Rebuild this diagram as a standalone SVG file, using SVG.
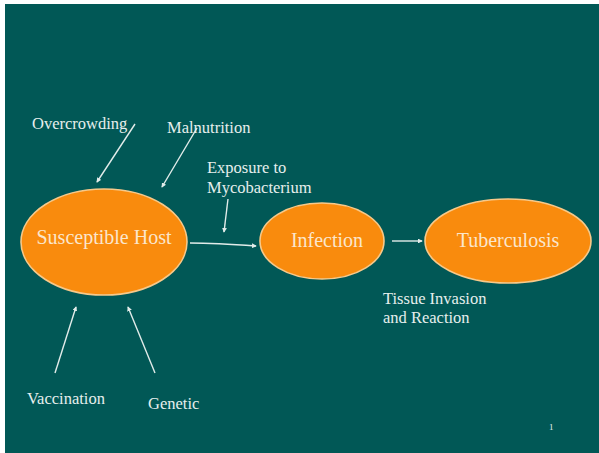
<svg xmlns="http://www.w3.org/2000/svg" width="599" height="453" viewBox="0 0 599 453">
<defs>
<style>
.node ellipse{fill:#F98B0D;stroke:#F7C98A;stroke-width:1.6}
.node text{font-family:"Liberation Serif","Times New Roman",serif;font-size:20px;fill:#FBE6CC;text-anchor:middle}
.lbl{font-family:"Liberation Serif","Times New Roman",serif;font-size:16.5px;fill:#E6EFED}
.conn line,.conn path{stroke:#E2ECEA;stroke-width:1.4;fill:none;marker-end:url(#ah)}
</style>
<marker id="ah" viewBox="0 0 6 6" refX="5" refY="3" markerWidth="3.5" markerHeight="3.5" orient="auto" markerUnits="strokeWidth">
<path d="M0,0 L6,3 L0,6 Z" fill="#E2ECEA"/>
</marker>
</defs>
<rect x="0" y="0" width="599" height="453" fill="#FFFFFF"/>
<rect x="5" y="4" width="594" height="449" fill="#015856"/>
<g class="conn" id="connectors">
<line x1="135" y1="124" x2="97" y2="182"/>
<line x1="197" y1="128" x2="162" y2="187"/>
<line x1="228" y1="199" x2="224" y2="232"/>
<path d="M190,243 Q215,243 256,246"/>
<line x1="392" y1="241" x2="422" y2="241"/>
<line x1="55" y1="373" x2="76" y2="307"/>
<line x1="155" y1="373" x2="128" y2="307"/>
</g>
<g class="node" id="host"><ellipse cx="104" cy="242" rx="83" ry="53"/><text x="104" y="244">Susceptible Host</text></g>
<g class="node" id="infection"><ellipse cx="322" cy="241" rx="62" ry="38"/><text x="327" y="247">Infection</text></g>
<g class="node" id="tb"><ellipse cx="508" cy="241" rx="83" ry="42"/><text x="508" y="247">Tuberculosis</text></g>
<g id="labels">
<text class="lbl" x="32" y="129">Overcrowding</text>
<text class="lbl" x="167" y="133">Malnutrition</text>
<text class="lbl" x="207" y="173">Exposure to</text>
<text class="lbl" x="207" y="193">Mycobacterium</text>
<text class="lbl" x="383" y="304">Tissue Invasion</text>
<text class="lbl" x="383" y="323">and Reaction</text>
<text class="lbl" x="27" y="404">Vaccination</text>
<text class="lbl" x="148" y="409">Genetic</text>
<text class="lbl" x="549" y="430" style="font-size:9px">1</text>
</g>
</svg>
